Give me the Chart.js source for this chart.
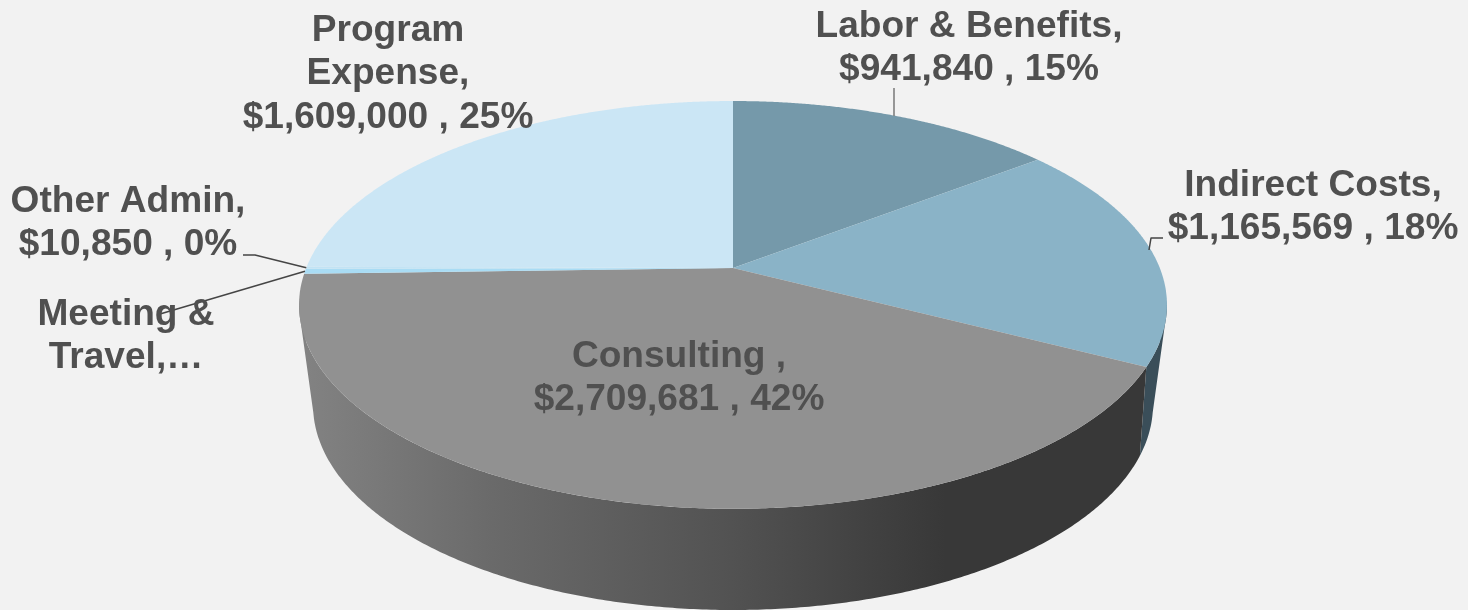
<!DOCTYPE html>
<html>
<head>
<meta charset="utf-8">
<script src="https://cdn.jsdelivr.net/npm/chart.js@4"></script>
<style>
html,body{margin:0;padding:0;background:#f2f2f2;overflow:hidden}
canvas{display:block}
</style>
</head>
<body>
<canvas id="c" width="1468" height="610"></canvas>
<script>
// ---- data ----
const categories = ["Labor & Benefits", "Indirect Costs", "Consulting", "Meeting & Travel", "Other Admin", "Program Expense"];
const values = [941840, 1165569, 2709681, 25000, 10850, 1609000];
const topColors = ["#7599aa", "#8ab3c7", "#919191", "#a9dcf4", "#c2e3f4", "#cbe6f5"];
const wallColors = ["#2f4550", "#3a4e59", null, "#4f7f96", "#5a8296", "#5f8296"];
const labelHeads = [["Labor & Benefits,"], ["Indirect Costs,"], ["Consulting ,"], ["Meeting &", "Travel,…"], ["Other Admin,"], ["Program", "Expense,"]];
const showValue = [true, true, true, false, true, true];

// ---- layout only ----
const labelPos = [
  {x: 969, y: 37}, {x: 1313, y: 196}, {x: 679, y: 367},
  {x: 126, y: 325}, {x: 128, y: 212}, {x: 388, y: 41}
];
const lineStep = 43.4;
const topProj = {c: -0.181, a: 148.7, b: 268, d: 426.8, cx: 733};
const botProj = {c: -0.24, a: 107.8, b: 355.8, d: 407.7, cx: 733};

function project(p, theta) {
  const u = Math.sin(theta), v = -Math.cos(theta), den = 1 + p.c * v;
  return [p.cx + p.d * u / den, (p.a * v + p.b) / den];
}
function toTheta(a) { return a + Math.PI / 2; }

const pie3d = {
  id: 'pie3d',
  beforeDatasetsDraw(chart) {
    const ctx = chart.ctx, arcs = chart.getDatasetMeta(0).data;
    const grad = ctx.createLinearGradient(298, 0, 945, 0);
    grad.addColorStop(0, '#838383');
    grad.addColorStop(0.3, '#6a6a6a');
    grad.addColorStop(0.67, '#525252');
    grad.addColorStop(1, '#383838');
    // walls: far slices first, only the part of the rim that faces the viewer
    const order = [0, 5, 4, 3, 1, 2];
    order.forEach(i => {
      const s = toTheta(arcs[i].startAngle), e = toTheta(arcs[i].endAngle);
      const steps = Math.max(2, Math.ceil((e - s) / 0.008));
      ctx.beginPath();
      for (let k = 0; k < steps; k++) {
        const t0 = s + (e - s) * k / steps, t1 = s + (e - s) * (k + 1) / steps;
        const a = project(topProj, t0), b = project(topProj, t1), c = project(botProj, t1), d = project(botProj, t0);
        if (a[1] < 300 || b[1] < 300) continue;
        let q = [a, b, c, d], area = 0;
        for (let n = 0; n < 4; n++) { const m = q[(n + 1) % 4]; area += q[n][0] * m[1] - m[0] * q[n][1]; }
        if (area < 0) q = q.reverse();
        ctx.moveTo(...q[0]); ctx.lineTo(...q[1]); ctx.lineTo(...q[2]); ctx.lineTo(...q[3]); ctx.closePath();
      }
      ctx.fillStyle = wallColors[i] || grad;
      ctx.fill();
    });
    // top face
    arcs.forEach((arc, i) => {
      const s = toTheta(arc.startAngle), e = toTheta(arc.endAngle);
      const steps = Math.max(2, Math.ceil((e - s) / 0.005));
      ctx.beginPath();
      ctx.moveTo(topProj.cx, topProj.b);
      for (let k = 0; k <= steps; k++) ctx.lineTo(...project(topProj, s + (e - s) * k / steps));
      ctx.closePath();
      ctx.fillStyle = topColors[i];
      ctx.fill();
    });
    return false;
  },
  afterDraw(chart) {
    const ctx = chart.ctx, arcs = chart.getDatasetMeta(0).data;
    const total = values.reduce((a, b) => a + b, 0);
    const mid = i => toTheta((arcs[i].startAngle + arcs[i].endAngle) / 2);
    // leader lines
    ctx.lineJoin = 'round';
    const line = (pts, color, w) => {
      ctx.beginPath(); ctx.moveTo(...pts[0]); pts.slice(1).forEach(p => ctx.lineTo(...p));
      ctx.strokeStyle = color; ctx.lineWidth = w; ctx.stroke();
    };
    line([[894, 88], [894, 116]], '#7f7f7f', 1.6);
    line([[1163, 238], [1151, 238], [1149, 250]], '#454545', 1.5);
    line([[243, 255], [255, 255], project(topProj, mid(4))], '#454545', 1.5);
    line([[160, 314], project(topProj, mid(3))], '#454545', 1.5);
    // labels
    ctx.font = 'bold 37.1px "Liberation Sans", Arial, sans-serif';
    ctx.textAlign = 'center'; ctx.textBaseline = 'alphabetic';
    ctx.fillStyle = '#505050';
    categories.forEach((cat, i) => {
      const lines = labelHeads[i].slice();
      if (showValue[i]) lines.push('$' + values[i].toLocaleString('en-US') + ' , ' + Math.round(values[i] / total * 100) + '%');
      lines.forEach((t, k) => ctx.fillText(t, labelPos[i].x, labelPos[i].y + k * lineStep));
    });
  }
};

new Chart(document.getElementById('c'), {
  type: 'pie',
  data: {labels: categories, datasets: [{data: values, backgroundColor: topColors, borderWidth: 0}]},
  options: {
    responsive: false, animation: false,
    plugins: {legend: {display: false}, tooltip: {enabled: false}}
  },
  plugins: [pie3d]
});
</script>
</body>
</html>
